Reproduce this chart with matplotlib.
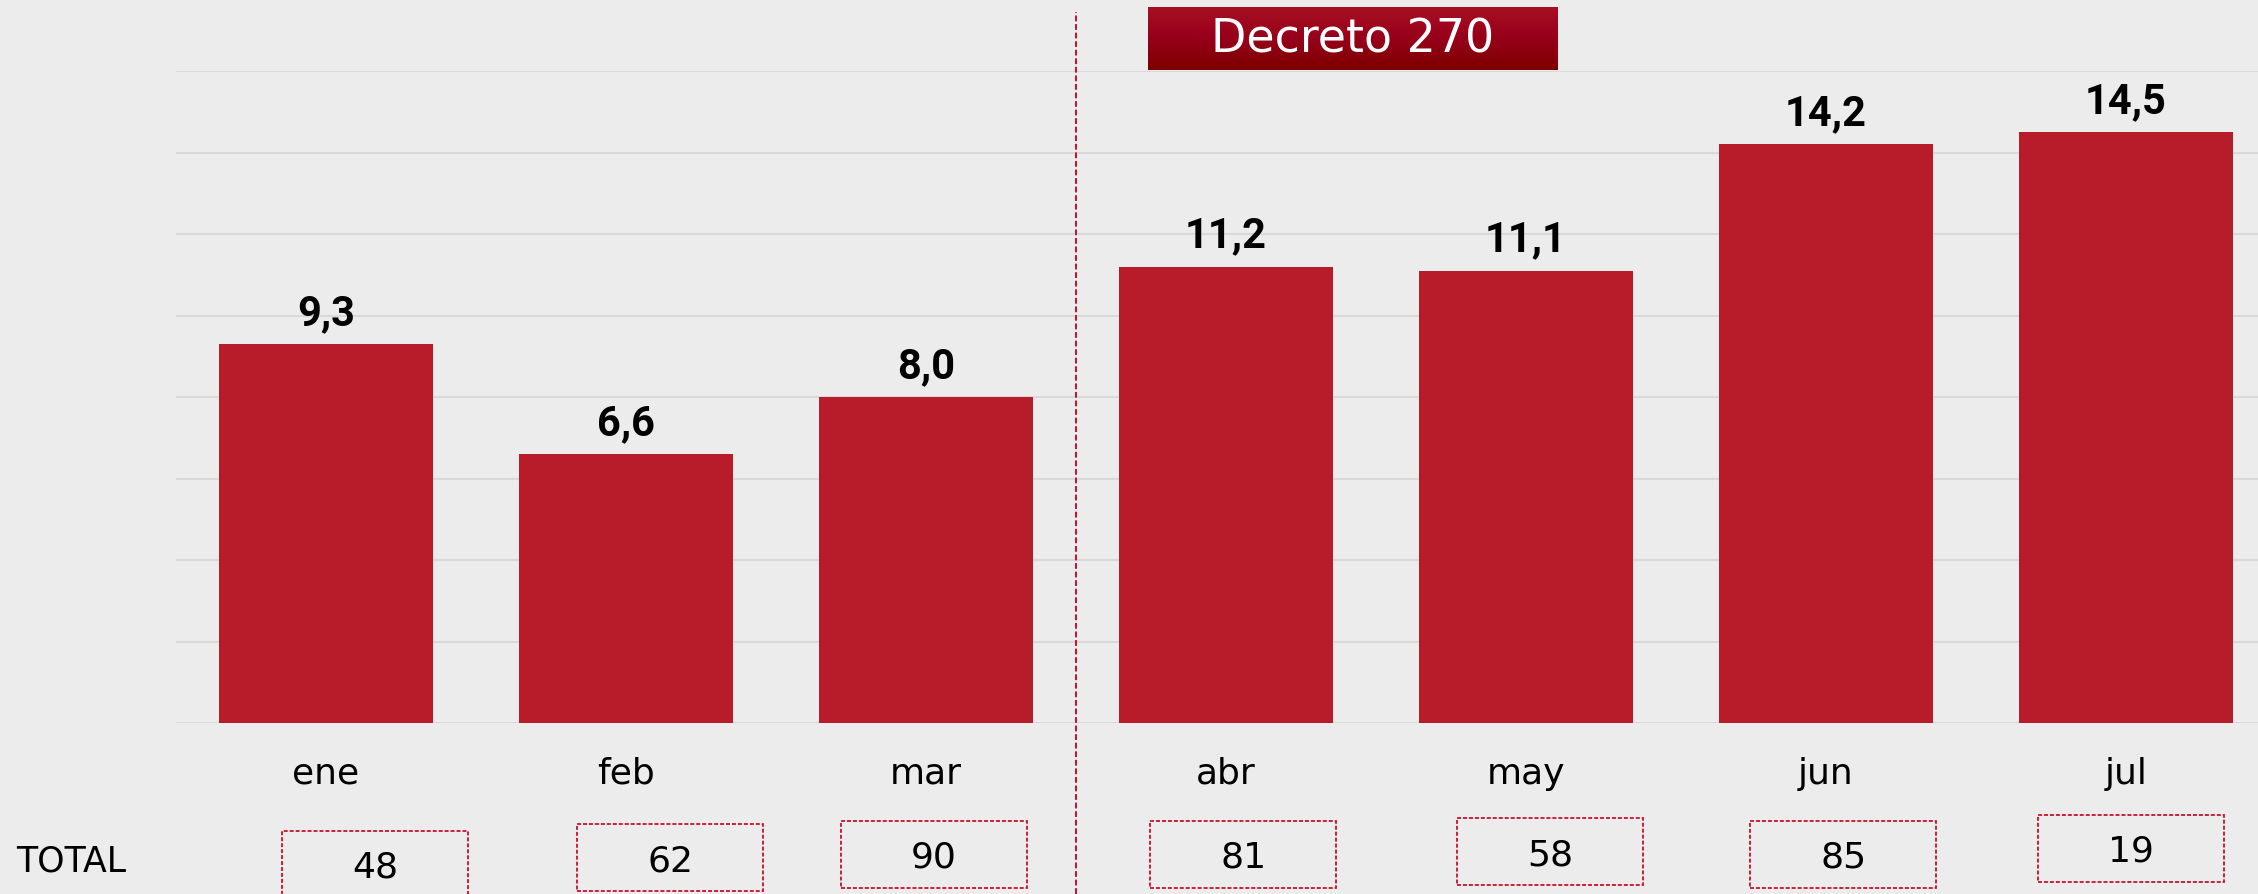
import numpy as np
import matplotlib.pyplot as plt
import matplotlib.transforms as mtransforms
from matplotlib.patches import Rectangle
from matplotlib.lines import Line2D
from matplotlib.colors import LinearSegmentedColormap

# datos
meses = ['ene', 'feb', 'mar', 'abr', 'may', 'jun', 'jul']
valores = [9.3, 6.6, 8.0, 11.2, 11.1, 14.2, 14.5]
totales = [48, 62, 90, 81, 58, 85, 19]

# posiciones de las cajas de TOTAL (colocadas a mano en el original)
box_dx = [0.163, 0.147, 0.027, 0.057, 0.08, 0.057, 0.017]
box_top = [0.0705, 0.0783, 0.0817, 0.0817, 0.085, 0.0817, 0.0884]
box_h = 0.075
box_w = 0.62

fondo = '#ececec'
rojo = '#b81c2a'
rojo_linea = '#c8102e'

fig = plt.figure(figsize=(22.58, 8.94), dpi=100, facecolor=fondo)
ax = fig.add_axes([176 / 2258, 1 - 723 / 894, 1 - 176 / 2258, (723 - 71) / 894])
ax.set_facecolor('none')

x = np.arange(len(meses))
ax.bar(x, valores, width=0.716, color=rojo, zorder=3)

ax.set_ylim(0, 16)
ax.set_xlim(-0.5, 6.44)
ax.set_yticks(range(0, 17, 2))
ax.yaxis.grid(True, color='#d9d9d9', lw=1.5)
ax.set_axisbelow(True)
ax.tick_params(left=False, bottom=False, labelleft=False, labelbottom=False)
for s in ax.spines.values():
    s.set_visible(False)

# etiquetas de valor
for i, v in enumerate(valores):
    ax.text(i, v + 0.47, f'{v:.1f}'.replace('.', ','), ha='center', va='baseline',
            fontsize=30, fontweight='bold', family='Roboto', color='black', zorder=4)

trans = mtransforms.blended_transform_factory(ax.transData, fig.transFigure)

# meses
for i, m in enumerate(meses):
    fig.text(i, 1 - 784 / 894, m, transform=trans, ha='center', va='baseline',
             fontsize=26, color='black')

# linea del decreto
fig.add_artist(Line2D([2.5, 2.5], [0, 1 - 12 / 894], transform=trans,
                      color=rojo_linea, lw=1.4, ls=(0, (3, 1.4))))

# TOTAL
fig.text(16 / 2258, 1 - 872 / 894, 'TOTAL', ha='left', va='baseline', fontsize=25)
for i, t in enumerate(totales):
    cx = i + box_dx[i]
    y0 = box_top[i] - box_h
    fig.add_artist(Rectangle((cx - box_w / 2, y0), box_w, box_h, transform=trans,
                             fill=False, ec=rojo_linea, lw=1.3, ls=(0, (2.2, 1.1))))
    fig.text(cx, y0 + box_h / 2 - 0.0151, str(t), transform=trans, ha='center',
             va='baseline', fontsize=26)

# titulo "Decreto 270"
tax = fig.add_axes([1148 / 2258, 1 - 70 / 894, 410 / 2258, 63 / 894])
grad = np.linspace(0, 1, 100).reshape(-1, 1)
cmap = LinearSegmentedColormap.from_list('dec', ['#a80f22', '#96001a', '#7d0000'])
tax.imshow(grad, aspect='auto', cmap=cmap, extent=[0, 1, 0, 1])
tax.axis('off')
tax.text(0.5, 0.47, 'Decreto 270', color='white', ha='center', va='center', fontsize=33)

fig.savefig('out.png', dpi=100, facecolor=fondo)
